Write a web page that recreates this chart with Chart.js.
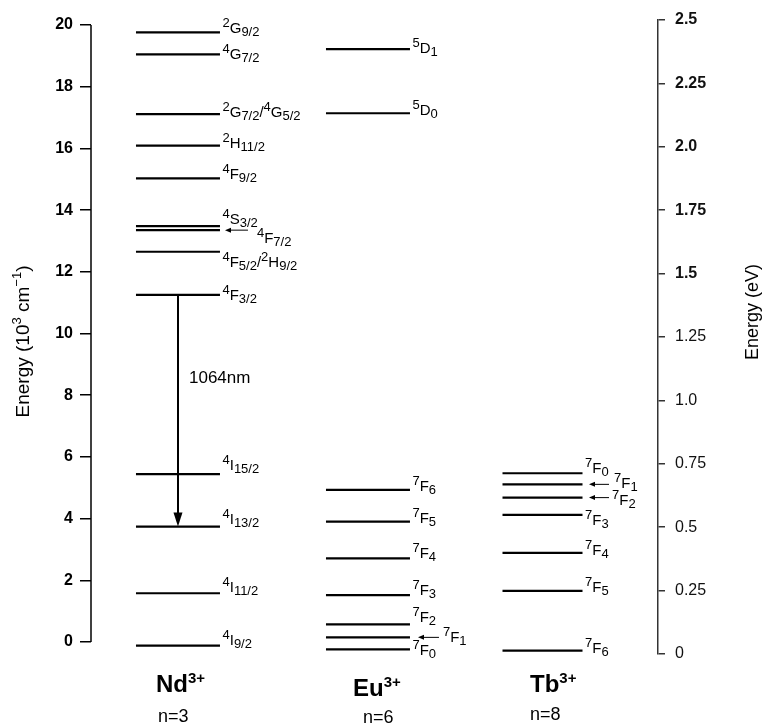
<!DOCTYPE html>
<html><head><meta charset="utf-8">
<script src="https://cdn.jsdelivr.net/npm/chart.js@4.4.1/dist/chart.umd.min.js"></script>
<style>html,body{margin:0;padding:0;background:#fff;}</style>
</head><body>
<canvas id="c" width="766" height="724"></canvas>
<script>
// ---------------- data ----------------
const ionSymbols = ['Nd', 'Eu', 'Tb'];
const ionCharges = ['3+', '3+', '3+'];
const ionN = ['n=3', 'n=6', 'n=8'];

// energies in 10^3 cm^-1
const ndTerms  = ['^{2}G_{9/2}', '^{4}G_{7/2}', '^{2}G_{7/2}/^{4}G_{5/2}', '^{2}H_{11/2}', '^{4}F_{9/2}', '^{4}S_{3/2}', '^{4}F_{7/2}', '^{4}F_{5/2}/^{2}H_{9/2}', '^{4}F_{3/2}', '^{4}I_{15/2}', '^{4}I_{13/2}', '^{4}I_{11/2}', '^{4}I_{9/2}'];
const ndEnergy = [19.76, 19.05, 17.11, 16.09, 15.03, 13.48, 13.35, 12.65, 11.25, 5.44, 3.74, 1.58, -0.12];

const euTerms  = ['^{5}D_{1}', '^{5}D_{0}', '^{7}F_{6}', '^{7}F_{5}', '^{7}F_{4}', '^{7}F_{3}', '^{7}F_{2}', '^{7}F_{1}', '^{7}F_{0}'];
const euEnergy = [19.22, 17.14, 4.93, 3.90, 2.71, 1.52, 0.57, 0.15, -0.24];

const tbTerms  = ['^{7}F_{0}', '^{7}F_{1}', '^{7}F_{2}', '^{7}F_{3}', '^{7}F_{4}', '^{7}F_{5}', '^{7}F_{6}'];
const tbEnergy = [5.47, 5.11, 4.68, 4.12, 2.89, 1.66, -0.28];

// laser transition of Nd3+ (level indices)
const laserFrom = 8, laserTo = 10;
const laserLabel = '1064nm';

const cmTicks = [0, 2, 4, 6, 8, 10, 12, 14, 16, 18, 20];
const evTicks = [0, 0.25, 0.5, 0.75, 1.0, 1.25, 1.5, 1.75, 2.0, 2.25, 2.5];
const evTickLabels = ['0', '0.25', '0.5', '0.75', '1.0', '1.25', '1.5', '1.75', '2.0', '2.25', '2.5'];

const leftTitle = 'Energy (10^{3} cm^{\u22121})';
const rightTitle = 'Energy (eV)';

// ---------------- layout (not data) ----------------
const FONT = "'Liberation Sans', Arial, Helvetica, sans-serif";
const COL_X = [15.34, 48.85, 79.63];      // column centres in x-scale units (0..100)
const HALF_W = [42, 42, 40];              // half length of level lines (px)
const LABEL_GAP = 2.5;
const LABEL_DY = [
  [1, 5, 3, 2, 1, -2, 13, 15, 5, -4, -3, -1, -1],
  [4, 2, 1, 1, 0, 0, -2, 5, 6],
  [0, 4, 7, 10, 2, 1, 2]
];
// [ion, level, arrowTipDx, arrowTailDx, labelDx] measured from the line end
const ARROWED = [[0, 6, 5, 28, 37], [1, 7, 8, 29, 33], [2, 1, 6.5, 26.5, 31.5], [2, 2, 6.5, 26.5, 29.5]];
const ION_LABEL = [[-22, 692, -20, 722], [-15, 696, -5, 723], [-12.5, 692, -12.5, 720]];

const allTerms = [ndTerms, euTerms, tbTerms];
const allEnergy = [ndEnergy, euEnergy, tbEnergy];

function parseRich(s) {
  const segs = []; const re = /\^\{([^}]*)\}|_\{([^}]*)\}|([^\^_]+)/g; let m;
  while ((m = re.exec(s))) {
    if (m[1] !== undefined) segs.push({t: m[1], k: 'sup'});
    else if (m[2] !== undefined) segs.push({t: m[2], k: 'sub'});
    else segs.push({t: m[3], k: 'n'});
  }
  return segs;
}
function richWidth(ctx, s, o) {
  let w = 0;
  for (const sg of parseRich(s)) {
    ctx.font = `${o.weight || 'normal'} ${sg.k === 'n' ? o.size : o.small}px ${FONT}`;
    w += ctx.measureText(sg.t).width;
  }
  return w;
}
function drawRich(ctx, s, x, y, o) {
  let cx = x;
  ctx.textAlign = 'left'; ctx.textBaseline = 'alphabetic';
  for (const sg of parseRich(s)) {
    const fs = sg.k === 'n' ? o.size : o.small;
    ctx.font = `${o.weight || 'normal'} ${fs}px ${FONT}`;
    const dy = sg.k === 'sup' ? -o.up : (sg.k === 'sub' ? o.down : 0);
    ctx.fillText(sg.t, cx, y + dy);
    cx += ctx.measureText(sg.t).width;
  }
  return cx - x;
}
function arrow(ctx, x1, y1, x2, y2, lw, hl, hw) {
  const a = Math.atan2(y2 - y1, x2 - x1);
  ctx.lineWidth = lw;
  ctx.beginPath(); ctx.moveTo(x1, y1);
  ctx.lineTo(x2 - Math.cos(a) * hl * 0.8, y2 - Math.sin(a) * hl * 0.8); ctx.stroke();
  ctx.beginPath();
  ctx.moveTo(x2, y2);
  ctx.lineTo(x2 - Math.cos(a) * hl + Math.sin(a) * hw, y2 - Math.sin(a) * hl - Math.cos(a) * hw);
  ctx.lineTo(x2 - Math.cos(a) * hl - Math.sin(a) * hw, y2 - Math.sin(a) * hl + Math.cos(a) * hw);
  ctx.closePath(); ctx.fill();
}

const LEVEL_FONT = {size: 15, small: 13, up: 6, down: 3};

const annot = {
  id: 'annot',
  afterDatasetsDraw(chart) {
    const ctx = chart.ctx, xs = chart.scales.x, ys = chart.scales.y;
    ctx.save();
    ctx.fillStyle = '#000'; ctx.strokeStyle = '#000';
    // left axis line (0..20 only)
    ctx.lineWidth = 1.5;
    ctx.beginPath();
    ctx.moveTo(chart.chartArea.left, ys.getPixelForValue(cmTicks[0]));
    ctx.lineTo(chart.chartArea.left, ys.getPixelForValue(cmTicks[cmTicks.length - 1]));
    ctx.stroke();

    // level labels
    allTerms.forEach((terms, i) => {
      const cx = xs.getPixelForValue(COL_X[i]);
      const xEnd = cx + HALF_W[i];
      terms.forEach((t, j) => {
        const y = ys.getPixelForValue(allEnergy[i][j]);
        const arr = ARROWED.find(a => a[0] === i && a[1] === j);
        if (arr) {
          arrow(ctx, xEnd + arr[3], y, xEnd + arr[2], y, 1, 6, 2.5);
          drawRich(ctx, t, xEnd + arr[4], y + LABEL_DY[i][j], LEVEL_FONT);
        } else {
          drawRich(ctx, t, xEnd + LABEL_GAP, y + LABEL_DY[i][j], LEVEL_FONT);
        }
      });
    });

    // laser transition
    const lx = xs.getPixelForValue(COL_X[0]);
    const yFrom = ys.getPixelForValue(ndEnergy[laserFrom]);
    const yTo = ys.getPixelForValue(ndEnergy[laserTo]);
    arrow(ctx, lx, yFrom, lx, yTo, 2, 14, 4.5);
    ctx.font = `17px ${FONT}`; ctx.textAlign = 'left'; ctx.textBaseline = 'alphabetic';
    ctx.fillText(laserLabel, lx + 11, yFrom + 88);

    // ion labels
    ionSymbols.forEach((s, i) => {
      const cx = xs.getPixelForValue(COL_X[i]);
      const L = ION_LABEL[i];
      drawRich(ctx, s + '^{' + ionCharges[i] + '}', cx + L[0], L[1], {size: 24, small: 15, up: 9, down: 0, weight: 'bold'});
      ctx.font = `18px ${FONT}`; ctx.textAlign = 'left';
      ctx.fillText(ionN[i], cx + L[2], L[3]);
    });

    // axis titles (rotated, reading upward)
    const tOpt = {size: 19, small: 13, up: 8, down: 0};
    const midL = (ys.getPixelForValue(cmTicks[0]) + ys.getPixelForValue(cmTicks[cmTicks.length - 1])) / 2;
    ctx.save(); ctx.translate(22, midL + 8); ctx.rotate(-Math.PI / 2);
    drawRich(ctx, leftTitle, -richWidth(ctx, leftTitle, tOpt) / 2, 7, tOpt); ctx.restore();
    const rOpt = {size: 18, small: 13, up: 8, down: 0};
    ctx.save(); ctx.translate(752, 312); ctx.rotate(-Math.PI / 2);
    drawRich(ctx, rightTitle, -richWidth(ctx, rightTitle, rOpt) / 2, 6, rOpt); ctx.restore();
    ctx.restore();
  }
};

const datasets = allEnergy.map((en, i) => ({
  label: ionSymbols[i] + ionCharges[i],
  data: en.map(e => ({x: COL_X[i], y: e})),
  pointStyle: 'line',
  pointRadius: HALF_W[i],
  pointHoverRadius: HALF_W[i],
  pointBorderWidth: 2.2,
  pointBorderColor: '#000',
  pointBackgroundColor: '#000',
  showLine: false
}));

new Chart(document.getElementById('c'), {
  type: 'scatter',
  data: {datasets},
  plugins: [annot],
  options: {
    responsive: false, animation: false, events: [],
    layout: {autoPadding: false, padding: {top: 20, bottom: 70, left: 0, right: 0}},
    plugins: {legend: {display: false}, tooltip: {enabled: false}},
    scales: {
      x: {type: 'linear', min: 0, max: 100, display: false},
      y: {
        type: 'linear', position: 'left',
        min: cmTicks[0] - 12 / 30.85, max: cmTicks[0] + 622 / 30.85,
        afterFit(s) { s.width = 91; },
        afterBuildTicks(s) { s.ticks = cmTicks.map(v => ({value: v})); },
        border: {display: false},
        grid: {drawOnChartArea: false, drawTicks: true, tickLength: 11, color: '#000', lineWidth: 1.5},
        ticks: {padding: 7, color: '#000', font: {family: FONT, size: 16, weight: 'bold'}, callback: v => String(v)}
      },
      y2: {
        type: 'linear', position: 'right', min: evTicks[0], max: evTicks[evTicks.length - 1],
        afterFit(s) { s.width = 108; },
        afterBuildTicks(s) { s.ticks = evTicks.map(v => ({value: v})); },
        border: {display: true, color: '#333', width: 1.5},
        grid: {drawOnChartArea: false, drawTicks: true, tickLength: 7, color: '#333', lineWidth: 1.5},
        ticks: {padding: 10, color: '#111',
          font: c => ({family: FONT, size: 16, weight: (c.tick && c.tick.value >= 1.5) ? 'bold' : 'normal'}),
          callback: (v) => evTickLabels[evTicks.indexOf(v)]}
      }
    }
  }
});
</script>
</body></html>
